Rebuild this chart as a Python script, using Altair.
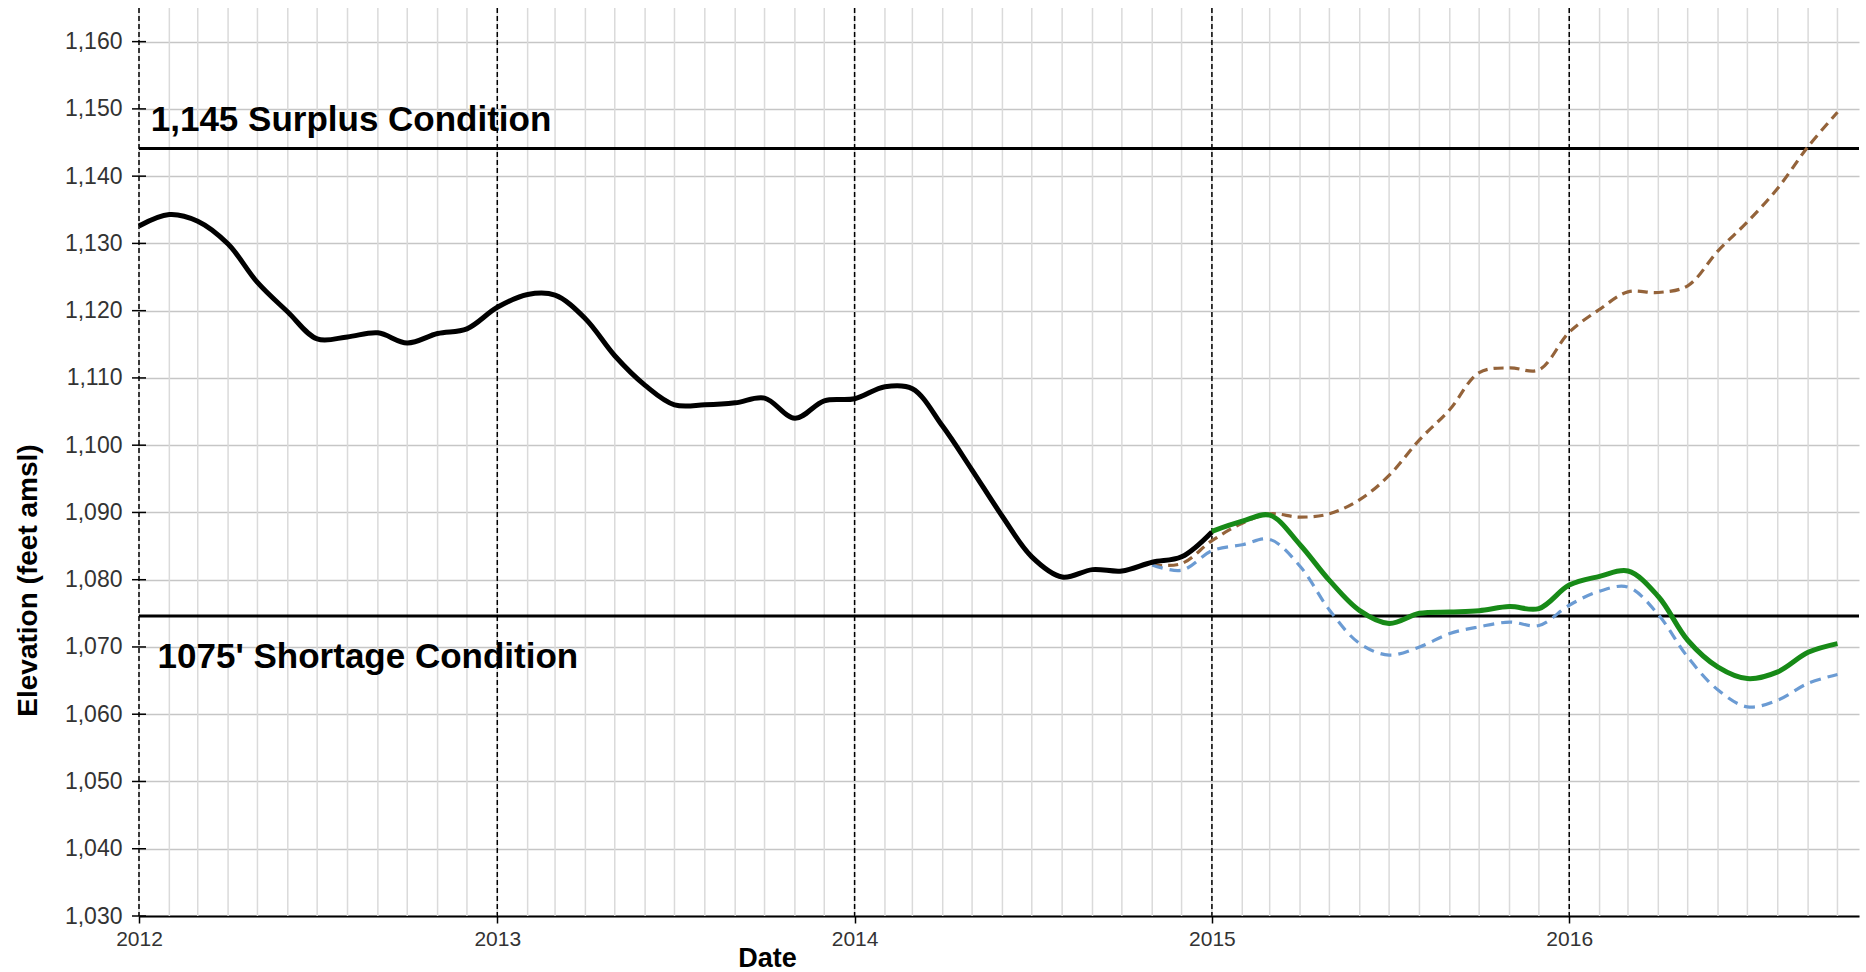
import altair as alt
import pandas as pd

# Monthly sample dates (first of each month), Jan 2012 .. Oct 2016
MONTHS = [f"{y}-{m:02d}-01" for y in range(2012, 2017) for m in range(1, 13)][:58]
YEARS = ["2012-01-01", "2013-01-01", "2014-01-01", "2015-01-01", "2016-01-01"]
Y_TICKS = [1030, 1040, 1050, 1060, 1070, 1080, 1090, 1100, 1110, 1120, 1130, 1140, 1150, 1160]

# Historical elevation, Jan 2012 .. Jan 2015
HIST = [1132.6, 1134.3, 1133.3, 1129.9, 1124.2, 1119.8, 1115.8, 1116.1, 1116.7, 1115.2, 1116.6, 1117.3,
        1120.5, 1122.4, 1122.3, 1118.8, 1113.3, 1108.9, 1106.0, 1106.0, 1106.3, 1107.0, 1104.0, 1106.6,
        1106.9, 1108.7, 1108.4, 1102.8, 1096.3, 1089.4, 1083.4, 1080.4, 1081.5, 1081.3, 1082.6, 1083.4,
        1087.1]
# Most probable projection (green), Jan 2015 .. Oct 2016
MOST = [1087.2, 1088.7, 1089.6, 1085.2, 1079.9, 1075.4, 1073.5, 1075.0, 1075.2, 1075.4, 1076.0, 1075.7,
        1079.2, 1080.5, 1081.3, 1077.5, 1071.0, 1067.0, 1065.3, 1066.3, 1069.2, 1070.5]
# Min probable (blue dashed), Nov 2014 .. Oct 2016
MINP = [1082.2, 1081.4,
        1084.3, 1085.2, 1086.0, 1082.0, 1075.5, 1070.5, 1068.8, 1070.0, 1072.0, 1073.0, 1073.7, 1073.2,
        1076.2, 1078.3, 1078.9, 1074.8, 1068.5, 1063.6, 1061.1, 1062.1, 1064.6, 1065.9]
# Max probable (brown dashed), Nov 2014 .. Oct 2016
MAXP = [1082.2, 1082.4,
        1085.8, 1088.4, 1089.8, 1089.3, 1089.8, 1091.9, 1095.5, 1100.8, 1105.3, 1110.8, 1111.5, 1111.2,
        1116.8, 1120.2, 1122.8, 1122.7, 1123.7, 1128.9, 1133.2, 1138.2, 1144.4, 1149.5]

THRESH_VALUES = [1144.1, 1074.6]
LABEL_TEXT = ["1,145 Surplus Condition", "1075' Shortage Condition"]
LABEL_DATE = ["2012-01-13", "2012-01-20"]
LABEL_ELEV = [1146.7, 1066.8]

FONT = "Liberation Sans"

hist_df = pd.DataFrame({"date": MONTHS[0:37], "elev": HIST})
most_df = pd.DataFrame({"date": MONTHS[36:58], "elev": MOST})
min_df = pd.DataFrame({"date": MONTHS[34:58], "elev": MINP})
max_df = pd.DataFrame({"date": MONTHS[34:58], "elev": MAXP})
month_df = pd.DataFrame({"date": MONTHS})
year_df = pd.DataFrame({"date": YEARS})
thr_df = pd.DataFrame({"elev": THRESH_VALUES})
lab_df = pd.DataFrame({"date": LABEL_DATE, "elev": LABEL_ELEV, "text": LABEL_TEXT})
tick_df = pd.DataFrame({"elev": Y_TICKS})

xscale = alt.Scale(type="utc", domain=[alt.DateTime(year=2012, month=1, date=1, utc=True),
                                       alt.DateTime(year=2016, month=10, date=23, utc=True)])
yscale = alt.Scale(domain=[1030, 1165], nice=False, zero=False)

xaxis = alt.Axis(
    values=[alt.DateTime(year=int(d[:4]), month=1, date=1, utc=True) for d in YEARS],
    format="%Y", formatType="utc", grid=False, labelFlush=False, labelAlign="center",
    domainColor="black", domainWidth=2, tickColor="black", tickSize=7, tickWidth=1.5,
    labelFont=FONT, labelFontSize=21, labelColor="#333333", labelPadding=5,
    title="Date", titleFont=FONT, titleFontSize=27, titleFontWeight="bold", titleColor="black",
    titleX=628, titleY=42, titleAlign="center", titleBaseline="middle",
)
yaxis = alt.Axis(
    values=Y_TICKS, format=",d", grid=True, gridColor="#c6c6c6", gridWidth=1.5,
    domain=False, ticks=False, labelPadding=17,
    labelFont=FONT, labelFontSize=23, labelColor="#333333",
    title="Elevation (feet amsl)", titleFont=FONT, titleFontSize=28, titleFontWeight="bold",
    titleColor="black", titleX=-111, titleY=572, titleAngle=270,
    titleAlign="center", titleBaseline="middle",
)

X = alt.X("date:T", scale=xscale, axis=xaxis)
Y = alt.Y("elev:Q", scale=yscale, axis=yaxis)

month_grid = alt.Chart(month_df).mark_rule(color="#dadada", strokeWidth=1.5).encode(x=X)
year_lines = alt.Chart(year_df).mark_rule(color="black", strokeWidth=1.5, strokeDash=[5, 3]).encode(x=X)
thresh = alt.Chart(thr_df).mark_rule(color="black", strokeWidth=3).encode(y=Y)

max_line = alt.Chart(max_df).mark_line(color="#94633a", strokeWidth=3.2, strokeDash=[10, 6],
                                       interpolate="catmull-rom").encode(x=X, y=Y)
min_line = alt.Chart(min_df).mark_line(color="#6b9bd3", strokeWidth=3.2, strokeDash=[11, 7],
                                       interpolate="catmull-rom").encode(x=X, y=Y)
hist_line = alt.Chart(hist_df).mark_line(color="black", strokeWidth=5,
                                         interpolate="catmull-rom").encode(x=X, y=Y)
most_line = alt.Chart(most_df).mark_line(color="#178a17", strokeWidth=5,
                                         interpolate="catmull-rom").encode(x=X, y=Y)

labels = alt.Chart(lab_df).mark_text(align="left", baseline="alphabetic", font=FONT, fontSize=35,
                                     fontWeight="bold", color="black").encode(x=X, y=Y, text="text:N")

yticks = alt.Chart(tick_df).mark_rule(color="black", strokeWidth=1.5).encode(
    y=Y, x=alt.value(-7), x2=alt.value(7))

chart = alt.layer(
    month_grid, year_lines, thresh, max_line, min_line, hist_line, most_line, labels, yticks
).properties(
    width=1720, height=908,
    autosize=alt.AutoSizeParams(type="none"),
    padding={"left": 139, "top": 8, "right": 7, "bottom": 56},
    background="white",
).configure_view(stroke=None)

chart.save("out.html", embed_options={"renderer": "svg", "actions": False})
